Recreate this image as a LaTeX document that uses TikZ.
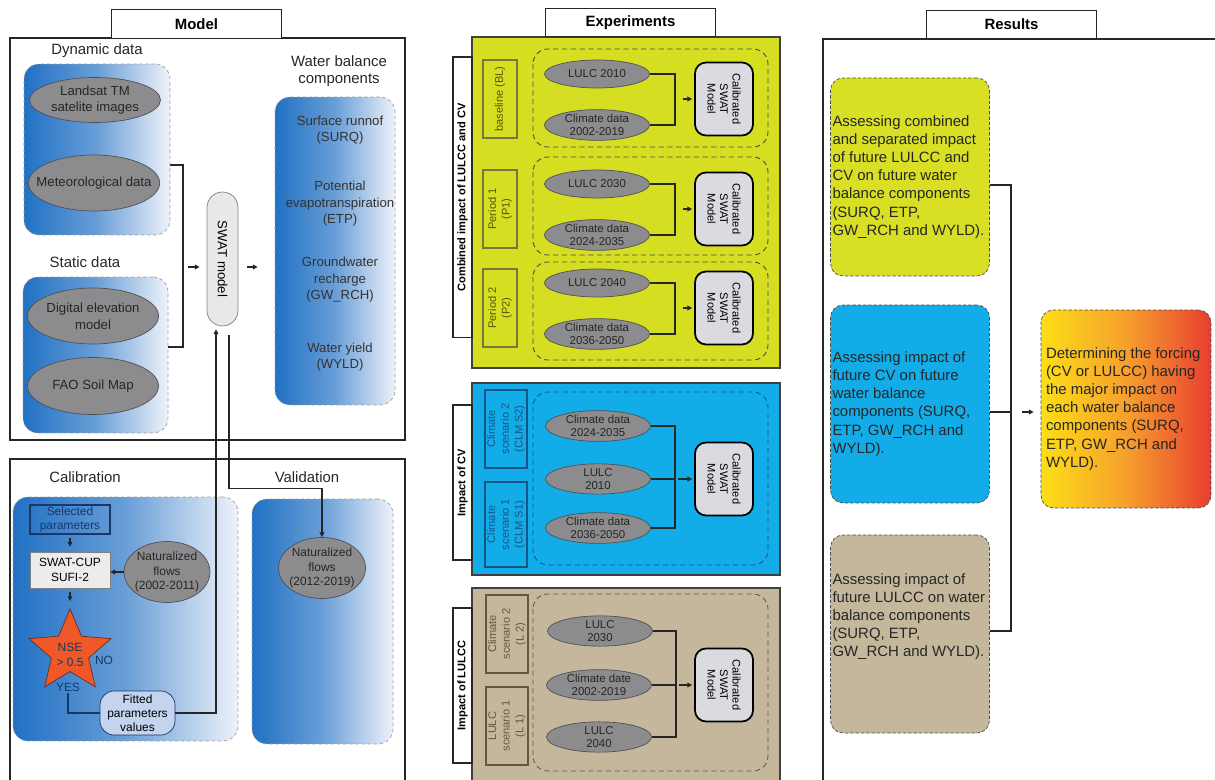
\documentclass[tikz,border=0pt]{standalone}
\usepackage{fontspec}
\setmainfont{Liberation Sans}
\usetikzlibrary{arrows.meta,shapes.geometric}

% colours
\definecolor{modelblue}{RGB}{33,113,196}
\definecolor{paleblue}{RGB}{238,242,250}
\definecolor{ellgray}{RGB}{140,140,143}
\definecolor{ellline}{RGB}{80,80,84}
\definecolor{swatgray}{RGB}{232,232,234}
\definecolor{calgray}{RGB}{218,219,224}
\definecolor{cupgray}{RGB}{236,236,236}
\definecolor{navy}{RGB}{25,55,105}
\definecolor{starred}{RGB}{240,88,40}
\definecolor{starline}{RGB}{110,45,30}
\definecolor{fitblue}{RGB}{196,212,238}
\definecolor{expyellow}{RGB}{214,222,33}
\definecolor{resyellow}{RGB}{216,223,36}
\definecolor{expcyan}{RGB}{18,173,232}
\definecolor{exptan}{RGB}{196,183,155}
\definecolor{olivedark}{RGB}{85,85,10}
\definecolor{deepcyan}{RGB}{20,85,135}
\definecolor{deeptan}{RGB}{100,88,68}
\definecolor{hotyellow}{RGB}{252,222,22}
\definecolor{hotorange}{RGB}{246,160,45}
\definecolor{hotred}{RGB}{232,62,48}

\tikzset{
  wire/.style={line width=0.7pt, draw=black!85},
  arr/.style={-{Triangle[length=0.95mm,width=0.95mm]}},
  panelframe/.style={line width=0.6pt, draw=black!85},
  headtab/.style={draw=black!85, line width=0.6pt, fill=white, minimum width=3.4cm,
    minimum height=0.57cm, font=\fontsize{8.5}{10}\selectfont\bfseries},
  grouptitle/.style={font=\fontsize{8.5}{9.8}\selectfont, text=black!85, align=center},
  shadebox/.style={draw=gray!75, dash pattern=on 2pt off 1.5pt, rounded corners=0.3cm,
    left color=modelblue, right color=paleblue, middle color=modelblue!65!paleblue},
  dataell/.style={ellipse, draw=ellline, fill=ellgray, minimum width=2.62cm,
    inner sep=0pt, inner xsep=-2pt, align=center,
    font=\fontsize{7.5}{9.5}\selectfont, text=black!85},
  wbitem/.style={align=center, font=\fontsize{7.5}{9.4}\selectfont, text=black!80},
  swatcore/.style={draw=gray, fill=swatgray, rounded corners=0.31cm, rotate=-90,
    minimum width=2.68cm, minimum height=0.62cm, font=\fontsize{7.5}{9}\selectfont},
  calfont/.style={font=\fontsize{6.8}{8.1}\selectfont},
  selbox/.style={calfont, draw=navy, line width=0.6pt, text=navy, align=center,
    minimum width=1.6cm, minimum height=0.58cm, inner sep=0.5pt},
  cupbox/.style={calfont, draw=gray, fill=cupgray, align=center,
    minimum width=1.6cm, minimum height=0.72cm, inner sep=0.5pt},
  nsestar/.style={star, star points=5, star point ratio=2.2, minimum size=1.72cm,
    inner sep=0pt, draw=starline, fill=starred},
  calnote/.style={calfont, text=navy, align=center, inner sep=1pt},
  fitbox/.style={calfont, draw=navy, fill=fitblue, rounded corners=0.28cm, align=center,
    minimum width=1.5cm, minimum height=0.88cm, inner ysep=1pt},
  expframe/.style={draw=black!75, line width=0.6pt},
  sidetab/.style={draw=black!85, line width=0.6pt, fill=white, rotate=90,
    minimum height=0.38cm, inner sep=0pt, font=\fontsize{6.3}{7}\selectfont\bfseries},
  casebox/.style={rotate=90, line width=0.6pt, minimum width=1.56cm, minimum height=0.68cm,
    inner sep=1pt, align=center, font=\fontsize{6.3}{7.8}\selectfont},
  casezone/.style={dash pattern=on 3pt off 2pt, rounded corners=0.3cm, line width=0.5pt},
  expell/.style={ellipse, draw=ellline, fill=ellgray, minimum width=2.1cm,
    minimum height=0.56cm, inner sep=0pt, align=center,
    font=\fontsize{6.5}{7.6}\selectfont, text=black!85},
  calswat/.style={draw=black, line width=1pt, fill=calgray, rounded corners=0.22cm,
    rotate=-90, minimum width=1.46cm, minimum height=1.16cm, align=center,
    inner sep=1pt, font=\fontsize{6.3}{7.1}\selectfont},
  resbox/.style={draw=gray!60!black, dash pattern=on 2pt off 1pt, rounded corners=0.25cm,
    minimum height=3.96cm, text width=3.1cm, inner xsep=0.04cm, align=flush left,
    font=\fontsize{8.5}{10.3}\selectfont, text=black!85}
}

\begin{document}
\begin{tikzpicture}[x=0.02cm, y=-0.02cm]
\useasboundingbox (0,0) rectangle (1215,780);

% ---------------- Model ----------------
\draw[panelframe] (10,38) rectangle (405,440);
\node[headtab] (modeltab) at (196.5,24) {Model};

% Dynamic data
\node[grouptitle] (dyntitle) at (97,51) {Dynamic data};
\node[shadebox, minimum width=2.92cm, minimum height=3.42cm] (dynbox) at (97,149.5) {};
\node[dataell, minimum height=0.9cm] (landsat) at (95,100) {Landsat TM\\satelite images};
\node[dataell, minimum height=1.12cm, inner xsep=-6.3pt] (meteo) at (94,183) {Meteorological data};

% Static data
\node[grouptitle] (stattitle) at (85,262) {Static data};
\node[shadebox, minimum width=2.9cm, minimum height=3.12cm] (statbox) at (95.5,355) {};
\node[dataell, minimum height=1.12cm] (dem) at (93,316) {Digital elevation\\model};
\node[dataell, minimum height=1.14cm] (soil) at (93,386) {FAO Soil Map};

% SWAT model and outputs
\node[swatcore] (swat) at (222.5,259) {SWAT model};
\node[grouptitle] (wbtitle) at (339,71.5) {Water balance\\components};
\node[shadebox, minimum width=2.4cm, minimum height=6.16cm] (wbbox) at (335,251) {};
\node[wbitem] (surq) at (340,130) {Surface runnof\\(SURQ)};
\node[wbitem] (etp) at (340,204) {Potential\\evapotranspiration\\(ETP)};
\node[wbitem] (gwrch) at (340,280) {Groundwater\\recharge\\(GW\_RCH)};
\node[wbitem] (wyld) at (340,357) {Water yield\\(WYLD)};

\coordinate (inj) at (183,267);
\draw[wire] ([yshift=-0.31cm]dynbox.east) -| (inj) |- ([yshift=0.16cm]statbox.east);
\draw[wire, arr, shorten <=0.1cm, shorten >=0.14cm] (inj) -- (inj -| swat.south);
\draw[wire, arr, shorten <=0.18cm, shorten >=0.34cm] (inj -| swat.north) -- (inj -| wbbox.west);

% ---------------- Calibration / Validation ----------------
\draw[panelframe] (10,782) -- (10,459) -- (405,459) -- (405,782);
\node[grouptitle] (caltitle) at (85,477) {Calibration};
\node[grouptitle] (valtitle) at (307,477) {Validation};
\node[shadebox, minimum width=4.5cm, minimum height=4.88cm] (calbox) at (125.5,619) {};
\node[shadebox, minimum width=2.82cm, minimum height=4.9cm] (valbox) at (322.5,621.5) {};

\node[selbox] (selpar) at (70,519.5) {Selected\\parameters};
\node[cupbox] (cup) at (70,570) {SWAT-CUP\\SUFI-2};
\node[dataell, calfont, minimum width=1.72cm, minimum height=1.22cm] (natcal) at (167,572)
  {Naturalized\\flows\\(2002-2011)};
\node[nsestar] (nse) at (70,652) {};
\node[calnote] (nsetext) at (70,655) {NSE\\> 0.5};
\node[calnote] (no) at (104,660) {NO};
\node[calnote] (yes) at (68,687) {YES};
\node[fitbox] (fitted) at (137.5,713) {Fitted\\parameters\\values};
\node[dataell, calfont, minimum width=1.74cm, minimum height=1.22cm] (natval) at (322,568)
  {Naturalized\\flows\\(2012-2019)};

\draw[wire, arr, shorten <=0.06cm, shorten >=0.1cm] (selpar) -- (cup);
\draw[wire, arr, shorten <=0.08cm, shorten >=0.14cm] (cup) -- (nse);
\draw[wire, arr] (natcal.west) -- (natcal.west -| cup.east);
\draw[wire, draw=navy] (yes.south) |- (fitted.west);
\draw[wire, arr, shorten >=0.06cm] (fitted.east) -| ([xshift=-0.13cm]swat.east);
\draw[wire, arr] ([xshift=0.13cm,yshift=-0.18cm]swat.east)
  |- ([yshift=0.98cm]natval.north) -- (natval.north);

% ---------------- Experiments ----------------
\draw[expframe, fill=expyellow] (472,37) rectangle (780,368);
\draw[expframe, fill=expcyan] (472,383) rectangle (780,575);
\draw[expframe, fill=exptan] (472,588) rectangle (780,782);
\node[headtab] (exptab) at (630.5,22.5) {Experiments};

\node[sidetab, minimum width=5.62cm] (combtab) at (462.5,197.5) {Combined impact of LULCC and CV};
\node[sidetab, minimum width=3.1cm] (cvtab) at (462.5,482.5) {Impact of CV};
\node[sidetab, minimum width=3.1cm] (lutab) at (462.5,685.5) {Impact of LULCC};

% combined impact: baseline and two periods
\foreach \tag/\yc/\yr/\lulc/\clim/\casetxt in {%
    bl/99/98/2010/2002-2019/{baseline (BL)},
    p1/209/206/2030/2024-2035/{Period 1\\(P1)},
    p2/308/311/2040/2036-2050/{Period 2\\(P2)}} {
  \draw[casezone, draw=black!70] (533,\yr-49) rectangle (768,\yr+49);
  \node[casebox, draw=olivedark!80, text=olivedark] (\tag-case) at (500,\yc) {\casetxt};
  \node[expell] (\tag-lulc) at (597,\yc-25) {LULC \lulc};
  \node[expell] (\tag-clim) at (597,\yc+26) {Climate data\\\clim};
  \node[calswat] (\tag-swat) at (724,\yc) {Calibrated\\SWAT\\Model};
  \coordinate (\tag-j) at (675,\yc);
  \draw[wire] (\tag-lulc.east) -| (\tag-j) |- (\tag-clim.east);
  \draw[wire, arr, shorten <=0.16cm, shorten >=0.04cm] (\tag-j) -- (\tag-swat.south);
}

% impact of CV
\draw[casezone, draw=deepcyan] (533,392) rectangle (768,565);
\node[casebox, draw=deepcyan, text=deepcyan, minimum height=0.84cm] (cv2-case) at (506,429)
  {Climate\\scenario 2\\(CLM S2)};
\node[casebox, draw=deepcyan, text=deepcyan, minimum height=0.84cm, minimum width=1.7cm]
  (cv1-case) at (506,524.5) {Climate\\scenario 1\\(CLM S1)};
\node[expell] (cv-clim1) at (598,426) {Climate data\\2024-2035};
\node[expell] (cv-lulc) at (598,479) {LULC\\2010};
\node[expell] (cv-clim2) at (598,528) {Climate data\\2036-2050};
\node[calswat] (cv-swat) at (724,479) {Calibrated\\SWAT\\Model};
\coordinate (cv-j) at (675,479);
\draw[wire] (cv-clim1.east) -| (cv-j) |- (cv-clim2.east);
\draw[wire] (cv-lulc.east) -- (cv-j);
\draw[wire, arr, shorten <=0.06cm, shorten >=0.04cm] (cv-j) -- (cv-swat.south);

% impact of LULCC
\draw[casezone, draw=deeptan] (533,594) rectangle (768,771);
\node[casebox, draw=deeptan, text=deeptan, minimum height=0.84cm] (lu2-case) at (507,634)
  {Climate\\scenario 2\\(L 2)};
\node[casebox, draw=deeptan, text=deeptan, minimum height=0.84cm] (lu1-case) at (507,726)
  {LULC\\scenario 1\\(L 1)};
\node[expell] (lu-lulc1) at (600,631) {LULC\\2030};
\node[expell] (lu-clim) at (599,685) {Climate date\\2002-2019};
\node[expell] (lu-lulc2) at (599,737) {LULC\\2040};
\node[calswat] (lu-swat) at (724,685) {Calibrated\\SWAT\\Model};
\coordinate (lu-j) at (676,685);
\draw[wire] (lu-lulc1.east) -| (lu-j) |- (lu-lulc2.east);
\draw[wire] (lu-clim.east) -- (lu-j);
\draw[wire, arr, shorten <=0.06cm, shorten >=0.04cm] (lu-j) -- (lu-swat.south);

% ---------------- Results ----------------
\draw[panelframe] (1216,39) -- (823,39) -- (823,782);
\node[headtab] (restab) at (1011.5,24.5) {Results};

\node[resbox, fill=resyellow] (res-comb) at (910,177)
  {Assessing combined\\and separated impact\\of future LULCC and\\CV on future water\\balance components\\(SURQ, ETP,\\GW\_RCH and WYLD).};
\node[resbox, fill=expcyan] (res-cv) at (910,404)
  {Assessing impact of\\future CV on future\\water balance\\components (SURQ,\\ETP, GW\_RCH and\\WYLD).};
\node[resbox, fill=exptan] (res-lu) at (910,634)
  {Assessing impact of\\future LULCC on water\\balance components\\(SURQ, ETP,\\GW\_RCH and WYLD).\\[11pt]\mbox{}};
\node[resbox, text width=3.2cm, inner xsep=0.1cm, left color=hotyellow, right color=hotred,
  middle color=hotorange] (forcing) at (1126,409)
  {Determining the forcing\\(CV or LULCC) having\\the major impact on\\each water balance\\components (SURQ,\\ETP, GW\_RCH and\\WYLD).};

\coordinate (res-j) at (1011,412);
\draw[wire] ([yshift=-0.16cm]res-comb.east) -| (res-j) |- ([yshift=0.06cm]res-lu.east);
\draw[wire] (res-cv.east |- res-j) -- (res-j);
\draw[wire, arr, shorten <=0.22cm, shorten >=0.14cm] (res-j) -- (res-j -| forcing.west);

\end{tikzpicture}
\end{document}
